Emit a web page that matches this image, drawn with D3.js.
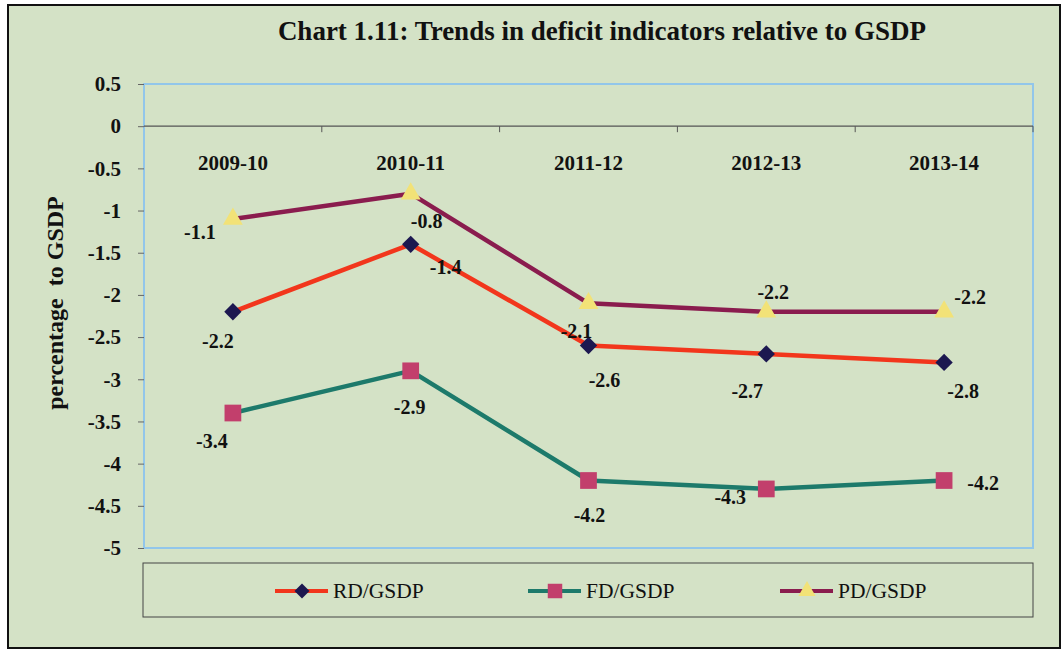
<!DOCTYPE html>
<html>
<head>
<meta charset="utf-8">
<script src="https://cdn.jsdelivr.net/npm/d3@7"></script>
<style>
  body { margin: 0; background: #fff; }
  svg { display: block; font-family: "Liberation Serif", "Times New Roman", serif; }
</style>
</head>
<body>
<div id="chart"></div>
<script>
const years = ["2009-10", "2010-11", "2011-12", "2012-13", "2013-14"];
const rdGsdp = [-2.2, -1.4, -2.6, -2.7, -2.8];
const fdGsdp = [-3.4, -2.9, -4.2, -4.3, -4.2];
const pdGsdp = [-1.1, -0.8, -2.1, -2.2, -2.2];
const yTicks = [0.5, 0, -0.5, -1, -1.5, -2, -2.5, -3, -3.5, -4, -4.5, -5];

// where each data label sits relative to its point (Excel placed them by hand)
const labelOffsets = {
  rd: [[-15, 29], [35, 23], [16, 34], [-19, 37], [19, 29]],
  fd: [[-21, 28], [-1, 36], [1, 34], [-36, 8], [39, 2]],
  pd: [[-33, 13], [16, 27], [-12, 28], [7, -20], [26, -15]]
};

const series = [
  { key: "rd", name: "RD/GSDP", values: rdGsdp, line: "#f2361c", marker: "diamond", fill: "#1c1850" },
  { key: "fd", name: "FD/GSDP", values: fdGsdp, line: "#1d7a6b", marker: "square", fill: "#c23f6c" },
  { key: "pd", name: "PD/GSDP", values: pdGsdp, line: "#8a1c4e", marker: "triangle", fill: "#f2e277" }
];

const width = 1064, height = 651;
const plot = { left: 144, right: 1033, top: 84, bottom: 548 };

const svg = d3.select("#chart").append("svg")
  .attr("width", width)
  .attr("height", height);

// chart area
svg.append("rect")
  .attr("x", 8).attr("y", 5)
  .attr("width", 1052).attr("height", 643)
  .attr("fill", "#d4e2c6")
  .attr("stroke", "#111")
  .attr("stroke-width", 2);

svg.append("text")
  .attr("x", 602).attr("y", 40)
  .attr("text-anchor", "middle")
  .attr("font-size", 27)
  .attr("font-weight", "bold")
  .attr("fill", "#111")
  .text("Chart 1.11: Trends in deficit indicators relative to GSDP");

const x = d3.scaleBand()
  .domain(years)
  .range([plot.left, plot.right])
  .padding(0);

const y = d3.scaleLinear()
  .domain([0.5, -5])
  .range([plot.top, plot.bottom]);

const cx = d => x(d) + x.bandwidth() / 2;

svg.append("rect")
  .attr("x", plot.left).attr("y", plot.top)
  .attr("width", plot.right - plot.left)
  .attr("height", plot.bottom - plot.top)
  .attr("fill", "none")
  .attr("stroke", "#92c6ea")
  .attr("stroke-width", 2);

// y axis
const yAxis = svg.append("g")
  .attr("transform", `translate(${plot.left},0)`)
  .call(d3.axisLeft(y).tickValues(yTicks).tickSize(6).tickPadding(17).tickFormat(d => String(d)));
yAxis.select(".domain").remove();
yAxis.selectAll(".tick line").attr("stroke", "#666");
yAxis.selectAll("text")
  .attr("font-family", "Liberation Serif, serif")
  .attr("font-size", 21)
  .attr("font-weight", "bold")
  .attr("fill", "#111");

svg.append("text")
  .attr("transform", `translate(63,303) rotate(-90)`)
  .attr("text-anchor", "middle")
  .attr("font-size", 24)
  .attr("font-weight", "bold")
  .attr("fill", "#111")
  .attr("xml:space", "preserve")
  .text("percentage  to GSDP");

// category axis sitting on zero
const boundaries = years.map(d => x(d)).concat([plot.right]);
svg.append("line")
  .attr("x1", plot.left).attr("x2", plot.right)
  .attr("y1", y(0)).attr("y2", y(0))
  .attr("stroke", "#555").attr("stroke-width", 1.3);
svg.append("g").selectAll("line")
  .data(boundaries.slice(1))
  .join("line")
  .attr("x1", d => d).attr("x2", d => d)
  .attr("y1", y(0)).attr("y2", y(0) + 6)
  .attr("stroke", "#555");
svg.append("g").selectAll("text")
  .data(years)
  .join("text")
  .attr("x", d => cx(d))
  .attr("y", 170)
  .attr("text-anchor", "middle")
  .attr("font-size", 21)
  .attr("font-weight", "bold")
  .attr("fill", "#111")
  .text(d => d);

const symbolType = { diamond: d3.symbolSquare, square: d3.symbolSquare, triangle: d3.symbolTriangle };
const symbolSize = { diamond: 150, square: 280, triangle: 170 };
const symbolRotate = { diamond: 45, square: 0, triangle: 0 };

const line = d3.line()
  .x((d, i) => cx(years[i]))
  .y(d => y(d));

series.forEach(s => {
  const g = svg.append("g");
  g.append("path")
    .datum(s.values)
    .attr("fill", "none")
    .attr("stroke", s.line)
    .attr("stroke-width", 4.5)
    .attr("stroke-linejoin", "round")
    .attr("d", line);

  g.selectAll("path.marker")
    .data(s.values)
    .join("path")
    .attr("class", "marker")
    .attr("transform", (d, i) => `translate(${cx(years[i])},${y(d)}) rotate(${symbolRotate[s.marker]})`)
    .attr("fill", s.fill)
    .attr("d", d3.symbol().type(symbolType[s.marker]).size(symbolSize[s.marker]));

  g.selectAll("text")
    .data(s.values)
    .join("text")
    .attr("x", (d, i) => cx(years[i]) + labelOffsets[s.key][i][0])
    .attr("y", (d, i) => y(d) + labelOffsets[s.key][i][1] + 7)
    .attr("text-anchor", "middle")
    .attr("font-size", 20)
    .attr("font-weight", "bold")
    .attr("fill", "#111")
    .text(d => d3.format(".1f")(d).replace("−", "-"));
});

// legend
svg.append("rect")
  .attr("x", 143).attr("y", 563)
  .attr("width", 890).attr("height", 54)
  .attr("fill", "none")
  .attr("stroke", "#444")
  .attr("stroke-width", 1);

const legendX = [275, 528, 780];
const legend = svg.append("g").selectAll("g")
  .data(series)
  .join("g")
  .attr("transform", (d, i) => `translate(${legendX[i]},591)`);
legend.append("line")
  .attr("x1", 0).attr("x2", 53)
  .attr("stroke", d => d.line)
  .attr("stroke-width", 4);
legend.append("path")
  .attr("transform", d => `translate(27,0) rotate(${symbolRotate[d.marker]})`)
  .attr("fill", d => d.fill)
  .attr("d", d => d3.symbol().type(symbolType[d.marker]).size(symbolSize[d.marker] * 0.75)());
legend.append("text")
  .attr("x", 58).attr("y", 7)
  .attr("font-size", 21.5)
  .attr("fill", "#111")
  .text(d => d.name);
</script>
</body>
</html>
